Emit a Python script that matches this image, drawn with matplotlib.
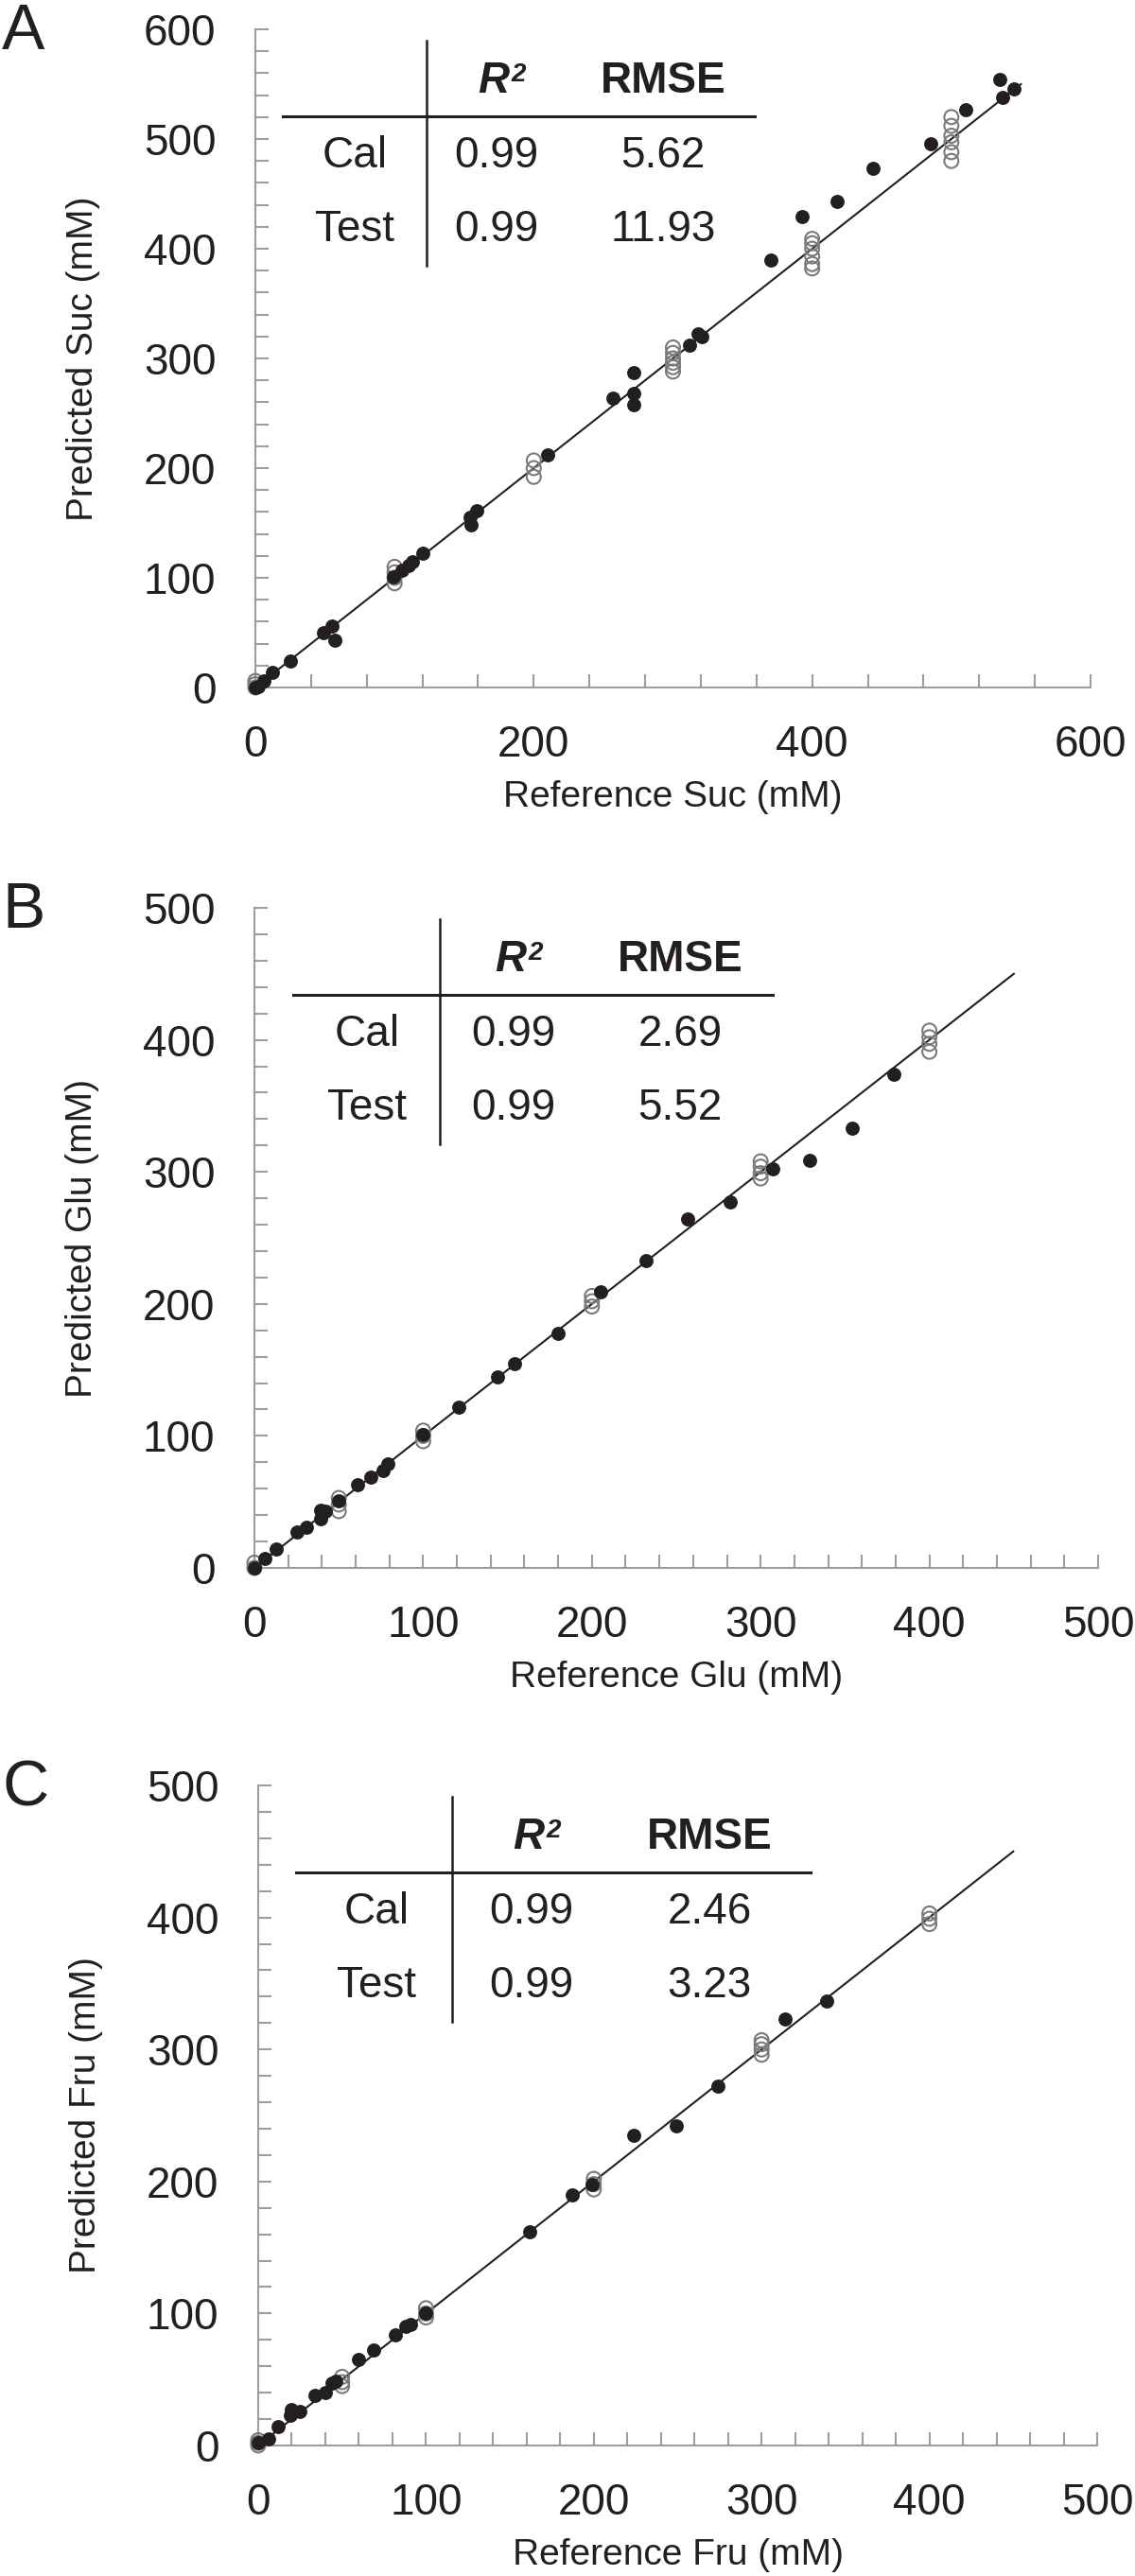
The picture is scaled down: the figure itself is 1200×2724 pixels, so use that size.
import matplotlib
matplotlib.use('Agg')
import matplotlib.pyplot as plt
from matplotlib.lines import Line2D
from matplotlib.ticker import MultipleLocator

plt.rcParams['font.family'] = ['Liberation Sans', 'DejaVu Sans']

W, H = 1200, 2724
INK = '#231f20'
AXIS_GREY = '#9d9d9d'
OPEN_GREY = '#7a7a7a'

# ---- data ----
# filled black dots
suc_test_ref = [0, 2, 6, 12, 25, 49, 55, 57, 99, 105, 110, 113, 120, 155, 154, 159,
                210, 257, 272, 272, 272, 312, 318, 321, 370, 393, 418, 444, 485,
                510, 535, 537, 545]
suc_test_pred = [0, 1, 6, 14, 24, 50, 56, 43, 101, 107, 111, 115, 122, 148, 155, 161,
                 212, 264, 268, 258, 287, 312, 322, 320, 390, 429, 443, 473, 496,
                 527, 554, 538, 546]
glu_test_ref = [0, 6, 13, 25, 31, 39, 39, 42, 50, 61, 69, 76, 79, 100, 121, 144, 154,
                180, 205, 232, 257, 282, 307, 329, 354, 379]
glu_test_pred = [0, 7, 14, 27, 31, 37, 44, 43, 51, 63, 69, 74, 79, 101, 122, 145, 155,
                 178, 209, 233, 264, 277, 302, 309, 333, 374]
fru_test_ref = [0, 6, 12, 19, 20, 25, 34, 40, 44, 46, 60, 69, 82, 88, 91, 100, 162,
                187, 199, 224, 249, 274, 314, 339]
fru_test_pred = [2, 5, 14, 23, 27, 26, 38, 40, 47, 49, 65, 72, 84, 90, 92, 100, 162,
                 190, 198, 235, 242, 272, 323, 337]

# open grey circles
suc_cal_ref = [0, 0, 0, 100, 100, 100, 100, 200, 200, 200,
               300, 300, 300, 300, 300, 300, 400, 400, 400, 400, 400, 400,
               500, 500, 500, 500, 500, 500]
suc_cal_pred = [0, 3, 6, 95, 100, 105, 110, 192, 200, 207,
                288, 292, 296, 300, 305, 310, 382, 386, 393, 400, 405, 409,
                480, 488, 497, 503, 512, 520]
glu_cal_ref = [0, 0, 50, 50, 50, 100, 100, 100, 200, 200, 200,
               300, 300, 300, 300, 400, 400, 400, 400]
glu_cal_pred = [0, 4, 43, 48, 53, 96, 100, 104, 198, 202, 206,
                295, 299, 304, 308, 391, 397, 402, 407]
fru_cal_ref = [0, 0, 0, 50, 50, 50, 100, 100, 100, 200, 200, 200,
               300, 300, 300, 300, 400, 400, 400]
fru_cal_pred = [0, 2, 4, 45, 48, 52, 97, 100, 104, 194, 198, 202,
                296, 300, 304, 307, 395, 399, 403]

letters = ['A', 'B', 'C']
sugars = ['Suc', 'Glu', 'Fru']
axis_max = [600, 500, 500]
fit_end = [550, 450, 450]
r2_cal = ['0.99', '0.99', '0.99']
r2_test = ['0.99', '0.99', '0.99']
rmse_cal = ['5.62', '2.69', '2.46']
rmse_test = ['11.93', '5.52', '3.23']

test_ref = [suc_test_ref, glu_test_ref, fru_test_ref]
test_pred = [suc_test_pred, glu_test_pred, fru_test_pred]
cal_ref = [suc_cal_ref, glu_cal_ref, fru_cal_ref]
cal_pred = [suc_cal_pred, glu_cal_pred, fru_cal_pred]

# ---- layout in pixels (left, right, top, bottom) ----
boxes = [(270, 1153, 31, 727), (269, 1161, 960, 1658), (273, 1160, 1888, 2586)]
x_minor = [40, 20, 20]
x_major = [200, 100, 100]
# table: horizontal rule x-range, vertical rule x, column centres
tables = [((299, 798), 451, (375, 525, 701)),
          ((310, 817), 465, (388, 543, 719)),
          ((313, 857), 478, (398, 562, 750))]


def fx(px):
    return px / W


def fy(py):
    return 1 - py / H


fig = plt.figure(figsize=(W / 100, H / 100), dpi=100)

for i in range(3):
    l, r, t, b = boxes[i]
    ax = fig.add_axes([fx(l), fy(b), (r - l) / W, (b - t) / H])
    m = axis_max[i]

    ax.plot([0, fit_end[i]], [0, fit_end[i]], color=INK, lw=1.5, zorder=2)
    ax.scatter(cal_ref[i], cal_pred[i], s=115, facecolors='none',
               edgecolors=OPEN_GREY, linewidths=1.5, zorder=3, clip_on=False)
    ax.scatter(test_ref[i], test_pred[i], s=115, color=INK, lw=0,
               zorder=4, clip_on=False)

    ax.set_xlim(0, m)
    ax.set_ylim(0, m)
    ax.xaxis.set_major_locator(MultipleLocator(x_major[i]))
    ax.xaxis.set_minor_locator(MultipleLocator(x_minor[i]))
    ax.yaxis.set_major_locator(MultipleLocator(100))
    ax.yaxis.set_minor_locator(MultipleLocator(20))

    for s in ['top', 'right']:
        ax.spines[s].set_visible(False)
    for s in ['left', 'bottom']:
        ax.spines[s].set_color(AXIS_GREY)
        ax.spines[s].set_linewidth(1.5)

    ax.tick_params(which='both', direction='in', length=10, width=1.5,
                   color=AXIS_GREY, labelsize=33, labelcolor=INK)
    ax.tick_params(axis='x', which='both', pad=28)
    ax.tick_params(axis='y', which='both', pad=30)

    ax.set_xlabel('Reference %s (mM)' % sugars[i], fontsize=28, color=INK, va='center')
    ax.xaxis.set_label_coords(0.5, -116 / (b - t))
    ax.set_ylabel('Predicted %s (mM)' % sugars[i], fontsize=28, color=INK,
                  va='center', ha='center', rotation_mode='default')
    ax.yaxis.set_label_coords(-182 / (r - l), 0.5)

    fig.text(fx(2), fy(t + 3), letters[i], fontsize=49, color=INK,
             ha='left', va='center')

    # stats table
    (h0, h1), vx, (c_lab, c_r2, c_rmse) = tables[i]
    fig.add_artist(Line2D([fx(h0), fx(h1)], [fy(t + 92), fy(t + 92)],
                          color=INK, lw=2.2))
    fig.add_artist(Line2D([fx(vx), fx(vx)], [fy(t + 12), fy(t + 250)],
                          color=INK, lw=1.8))
    fig.text(fx(c_r2 + 13), fy(t + 55), 'R', fontsize=33, fontweight='bold',
             style='italic', color=INK, ha='right', va='center')
    fig.text(fx(c_r2 + 15), fy(t + 48), '2', fontsize=20, fontweight='bold',
             style='italic', color=INK, ha='left', va='center')
    fig.text(fx(c_rmse), fy(t + 55), 'RMSE', fontsize=33, fontweight='bold',
             color=INK, ha='center', va='center')
    rows = [('Cal', r2_cal[i], rmse_cal[i], 134), ('Test', r2_test[i], rmse_test[i], 212)]
    for name, r2, rmse, dy in rows:
        fig.text(fx(c_lab), fy(t + dy), name, fontsize=33, color=INK, ha='center', va='center')
        fig.text(fx(c_r2), fy(t + dy), r2, fontsize=33, color=INK, ha='center', va='center')
        fig.text(fx(c_rmse), fy(t + dy), rmse, fontsize=33, color=INK, ha='center', va='center')

fig.savefig('out.png', dpi=100)
